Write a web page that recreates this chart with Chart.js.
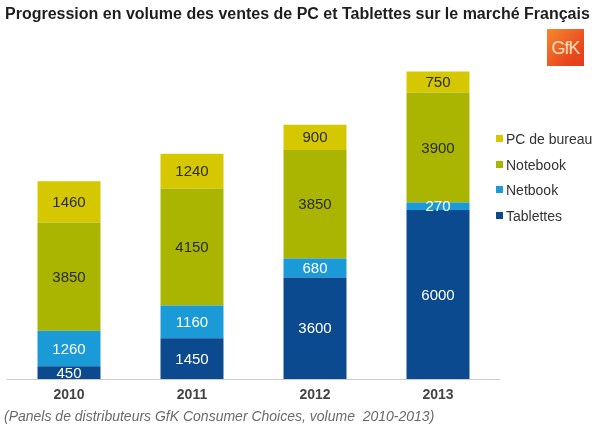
<!DOCTYPE html>
<html lang="fr">
<head>
    <meta charset="UTF-8">
    <title>Progression en volume des ventes de PC et Tablettes</title>
    <style>
        body {
            margin: 0;
            background: #fff;
            font-family: Arial, "Liberation Sans", sans-serif;
        }
        #wrap {
            position: relative;
            width: 595px;
            height: 429px;
            overflow: hidden;
        }
        #chart {
            position: absolute;
            left: 0;
            top: 0;
        }
        #titre {
            position: absolute;
            left: 5px;
            top: 5px;
            font-size: 16px;
            font-weight: bold;
            color: #1e1e1e;
            white-space: nowrap;
        }
        #source {
            position: absolute;
            left: 4px;
            top: 408px;
            font-size: 14px;
            font-style: italic;
            color: #6a6a6a;
            white-space: pre;
        }
        #logo {
            position: absolute;
            left: 547px;
            top: 29px;
            width: 37px;
            height: 37px;
            background: linear-gradient(135deg, #f5892e, #e9481f 70%, #e23c1c);
            color: #f6dcb8;
            font-size: 18px;
            line-height: 38px;
            text-align: center;
            letter-spacing: -1px;
        }
        #legende {
            position: absolute;
            left: 496px;
            top: 131px;
        }
        #legende div {
            height: 25.5px;
            font-size: 14px;
            color: #333;
            white-space: nowrap;
        }
        #legende span {
            display: inline-block;
            width: 7px;
            height: 7px;
            margin-right: 3px;
            vertical-align: 2px;
        }
    </style>
    <script src="https://cdn.jsdelivr.net/npm/chart.js"></script>
</head>
<body>
    <div id="wrap">
        <canvas id="chart" width="595" height="429"></canvas>
        <div id="titre">Progression en volume des ventes de PC et Tablettes sur le marché Français</div>
        <div id="logo">GfK</div>
        <div id="legende"></div>
        <div id="source">(Panels de distributeurs GfK Consumer Choices, volume  2010-2013)</div>
    </div>

    <script>
        // Données (en milliers d'unités)
        const annees = ['2010', '2011', '2012', '2013'];
        const tablettes = [450, 1450, 3600, 6000];
        const netbook = [1260, 1160, 680, 270];
        const notebook = [3850, 4150, 3850, 3900];
        const pcBureau = [1460, 1240, 900, 750];

        const couleurs = {
            tablettes: '#0b4a8e',
            netbook: '#1b9ad8',
            notebook: '#a9b500',
            pcBureau: '#d5c700'
        };

        // Étiquettes de valeurs au centre de chaque segment
        const etiquettes = {
            id: 'etiquettes',
            afterDatasetsDraw(chart) {
                const ctx = chart.ctx;
                ctx.save();
                ctx.font = '15px Arial, "Liberation Sans", sans-serif';
                ctx.textAlign = 'center';
                ctx.textBaseline = 'middle';
                chart.data.datasets.forEach((ds, i) => {
                    const meta = chart.getDatasetMeta(i);
                    meta.data.forEach((bar, j) => {
                        const { x, y, base } = bar.getProps(['x', 'y', 'base'], true);
                        ctx.fillStyle = ds.labelColor;
                        ctx.fillText(ds.data[j], x, (y + base) / 2 + 1);
                    });
                });
                ctx.restore();
            }
        };

        const chart = new Chart(document.getElementById('chart'), {
            type: 'bar',
            data: {
                labels: annees,
                datasets: [
                    { label: 'Tablettes', data: tablettes, backgroundColor: couleurs.tablettes, labelColor: '#ffffff' },
                    { label: 'Netbook', data: netbook, backgroundColor: couleurs.netbook, labelColor: '#ffffff' },
                    { label: 'Notebook', data: notebook, backgroundColor: couleurs.notebook, labelColor: '#2b2b2b' },
                    { label: 'PC de bureau', data: pcBureau, backgroundColor: couleurs.pcBureau, labelColor: '#2b2b2b' }
                ]
            },
            options: {
                responsive: false,
                animation: false,
                layout: {
                    padding: { left: 7.5, right: 95.5, top: 41, bottom: 10 }
                },
                datasets: {
                    bar: {
                        categoryPercentage: 1,
                        barPercentage: 0.512,
                        borderWidth: 0
                    }
                },
                scales: {
                    x: {
                        stacked: true,
                        grid: { display: false, drawTicks: false },
                        border: { color: '#cccccc', width: 1 },
                        ticks: {
                            padding: 8,
                            color: '#444444',
                            font: { family: 'Arial, "Liberation Sans", sans-serif', size: 14, weight: 'bold' }
                        },
                        afterFit: (scale) => { scale.height = 40; }
                    },
                    y: {
                        stacked: true,
                        display: false,
                        min: 0,
                        max: 12000
                    }
                },
                plugins: {
                    legend: { display: false },
                    tooltip: { enabled: false }
                }
            },
            plugins: [etiquettes]
        });

        // Légende HTML construite à partir des éléments du graphique
        const items = Chart.defaults.plugins.legend.labels.generateLabels(chart).reverse();
        const legende = document.getElementById('legende');
        items.forEach(item => {
            const ligne = document.createElement('div');
            const carre = document.createElement('span');
            carre.style.background = item.fillStyle;
            ligne.appendChild(carre);
            ligne.appendChild(document.createTextNode(item.text));
            legende.appendChild(ligne);
        });
    </script>
</body>
</html>
